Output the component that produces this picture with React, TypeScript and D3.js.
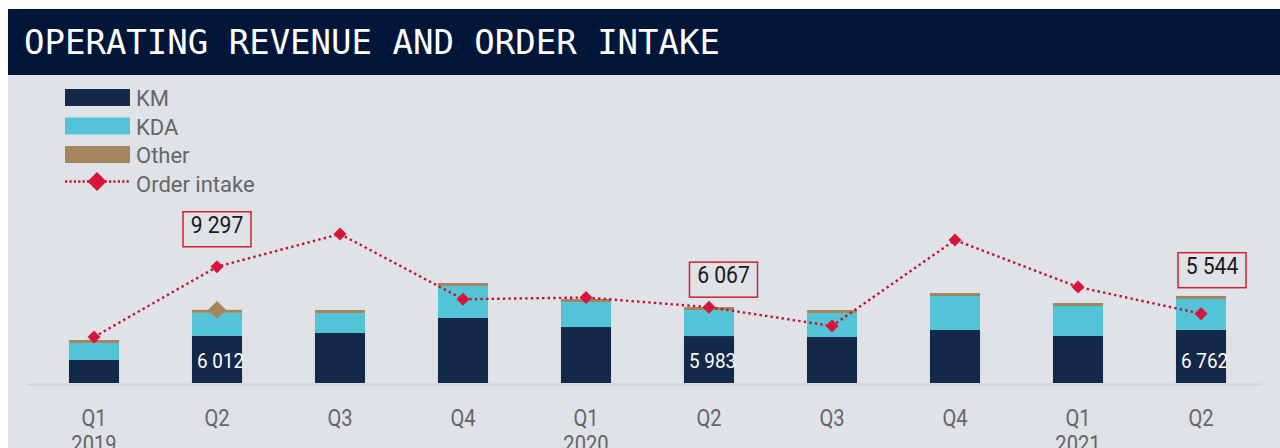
import React, { useRef, useEffect } from "react";
import * as d3 from "d3";

// quarters on the x axis
const quarters = ["Q1", "Q2", "Q3", "Q4", "Q1", "Q2", "Q3", "Q4", "Q1", "Q2"];
const years = ["2019", "", "", "", "2020", "", "", "", "2021", ""];

// operating revenue by segment (NOK million)
const km = [2930, 6012, 6370, 8280, 7130, 5983, 5860, 6750, 5990, 6762];
const kda = [2170, 2930, 2550, 4080, 3190, 3310, 3060, 4330, 3820, 3950];
const other = [380, 380, 380, 380, 380, 380, 380, 380, 380, 380];

// order intake
const orderIntake = [3680, 9297, 11920, 6700, 6840, 6067, 4560, 11440, 7680, 5544];

// which quarters get a boxed order intake label / KM label
const annotated = [1, 5, 9];

const legendItems = ["KM", "KDA", "Other", "Order intake"];

const COLORS = {
  km: "#142848",
  kda: "#53c4d8",
  other: "#a5855d",
  line: "#c8102e",
  diamond: "#d7153a",
  bg: "#dfe2e7",
  title: "#011638",
  text: "#666666",
};

const fmt = (v: number) => d3.format(",")(v).replace(/,/g, " ");

const App = () => {
  const chartRef = useRef<SVGSVGElement | null>(null);

  useEffect(() => {
    const width = 1280;
    const height = 448;
    const baseline = 383;

    const svg = d3.select(chartRef.current).attr("width", width).attr("height", height);
    svg.selectAll("*").remove();

    // background + title bar
    svg.append("rect").attr("x", 8).attr("y", 9).attr("width", width - 8).attr("height", height - 9).attr("fill", COLORS.bg);
    svg.append("rect").attr("x", 8).attr("y", 9).attr("width", width - 8).attr("height", 66).attr("fill", COLORS.title);
    svg
      .append("text")
      .attr("x", 24)
      .attr("y", 54)
      .attr("fill", "#ffffff")
      .style("font-family", "'DejaVu Sans Mono', monospace")
      .style("font-size", "34px")
      .text("OPERATING REVENUE AND ORDER INTAKE");

    // scales
    const p = 0.593;
    const x = d3
      .scaleBand<number>()
      .domain(d3.range(quarters.length))
      .range([32.5, 1262.5])
      .paddingInner(p)
      .paddingOuter(p / 2);
    const cx = (i: number) => (x(i) as number) + x.bandwidth() / 2;

    const yBar = d3.scaleLinear().domain([0, 30000]).range([baseline, baseline - 235.5]);
    const yLine = d3.scaleLinear().domain([0, 15000]).range([baseline, baseline - 187.5]);

    // axis line
    svg
      .append("line")
      .attr("x1", 27)
      .attr("x2", 1262)
      .attr("y1", 384.5)
      .attr("y2", 384.5)
      .attr("stroke", "#d2d5d9")
      .attr("stroke-width", 2);

    // stacked bars
    const rows = quarters.map((q, i) => ({ i, km: km[i], kda: kda[i], other: other[i] }));
    const stack = d3.stack<any>().keys(["km", "kda", "other"])(rows);
    const fills = [COLORS.km, COLORS.kda, COLORS.other];

    svg
      .selectAll(".layer")
      .data(stack)
      .join("g")
      .attr("class", "layer")
      .attr("fill", (d, k) => fills[k])
      .selectAll("rect")
      .data((d) => d)
      .join("rect")
      .attr("x", (d: any) => x(d.data.i) as number)
      .attr("width", x.bandwidth())
      .attr("y", (d) => yBar(d[1]))
      .attr("height", (d) => yBar(d[0]) - yBar(d[1]));

    // KM value labels
    svg
      .selectAll(".kmlabel")
      .data(annotated)
      .join("text")
      .attr("class", "kmlabel")
      .attr("transform", (i) => `translate(${(x(i) as number) + 5},368) scale(0.9,1)`)
      .attr("fill", "#ffffff")
      .style("font-family", "Roboto, sans-serif")
      .style("font-size", "21px")
      .text((i) => fmt(km[i]));

    // stray marker on top of the Q2 2019 stack
    const sq = d3.symbol().type(d3.symbolSquare);
    svg
      .append("path")
      .attr("d", sq.size(160)())
      .attr("transform", `translate(${cx(1)},${yBar(km[1] + kda[1] + other[1])}) rotate(45)`)
      .attr("fill", COLORS.other);

    // order intake line
    const line = d3
      .line<number>()
      .x((d, i) => cx(i))
      .y((d) => yLine(d));
    svg
      .append("path")
      .datum(orderIntake)
      .attr("d", line)
      .attr("fill", "none")
      .attr("stroke", COLORS.line)
      .attr("stroke-width", 2.4)
      .attr("stroke-dasharray", "2.4 3.2");

    svg
      .selectAll(".diamond")
      .data(orderIntake)
      .join("path")
      .attr("class", "diamond")
      .attr("d", sq.size(84)())
      .attr("transform", (d, i) => `translate(${cx(i)},${yLine(d)}) rotate(45)`)
      .attr("fill", COLORS.diamond);

    // boxed labels
    const boxOffsets = [
      { dx: 0, dy: -55 },
      { dx: 14.5, dy: -45 },
      { dx: 11, dy: -61 },
    ];
    const boxes = svg
      .selectAll(".box")
      .data(annotated)
      .join("g")
      .attr("class", "box")
      .attr("transform", (i, k) => `translate(${cx(i) + boxOffsets[k].dx},${yLine(orderIntake[i]) + boxOffsets[k].dy})`);
    boxes
      .append("rect")
      .attr("x", -34)
      .attr("y", 0)
      .attr("width", 68)
      .attr("height", 35)
      .attr("fill", "none")
      .attr("stroke", "#cf2233")
      .attr("stroke-width", 1.5);
    boxes
      .append("text")
      .attr("transform", "translate(0,21) scale(0.88,1)")
      .attr("text-anchor", "middle")
      .attr("fill", "#1a1a1a")
      .style("font-family", "Roboto, sans-serif")
      .style("font-size", "24px")
      .text((i) => fmt(orderIntake[i]));

    // x labels
    const xl = svg
      .selectAll(".xlabel")
      .data(quarters)
      .join("g")
      .attr("class", "xlabel")
      .attr("transform", (q, i) => `translate(${cx(i)},0)`)
      .style("font-family", "Roboto, sans-serif")
      .style("font-size", "24px")
      .attr("fill", COLORS.text)
      .attr("text-anchor", "middle");
    xl.append("text")
      .attr("transform", "translate(0,426) scale(0.84,1)")
      .text((q) => q);
    xl.append("text")
      .attr("transform", "translate(0,452) scale(0.84,1)")
      .text((q, i) => years[i]);

    // legend
    const lg = svg
      .selectAll(".legend")
      .data(legendItems)
      .join("g")
      .attr("class", "legend")
      .attr("transform", (d, i) => `translate(65,${89 + i * 28.5})`);
    lg.filter((d, i) => i < 3)
      .append("rect")
      .attr("width", 65)
      .attr("height", 17)
      .attr("fill", (d, i) => fills[i]);
    const lineItem = lg.filter((d, i) => i === 3);
    lineItem
      .append("line")
      .attr("x1", 0)
      .attr("x2", 65)
      .attr("y1", 7)
      .attr("y2", 7)
      .attr("stroke", COLORS.line)
      .attr("stroke-width", 2.4)
      .attr("stroke-dasharray", "2.2 2.2");
    lineItem
      .append("path")
      .attr("d", sq.size(180)())
      .attr("transform", "translate(32,7) rotate(45)")
      .attr("fill", COLORS.diamond);
    lg.append("text")
      .attr("x", 71)
      .attr("y", 17)
      .attr("fill", COLORS.text)
      .style("font-family", "Roboto, sans-serif")
      .style("font-size", "22px")
      .text((d) => d);
  }, []);

  return (
    <svg ref={chartRef} style={{ position: "absolute", left: 0, top: 0 }}></svg>
  );
};

export default App;
